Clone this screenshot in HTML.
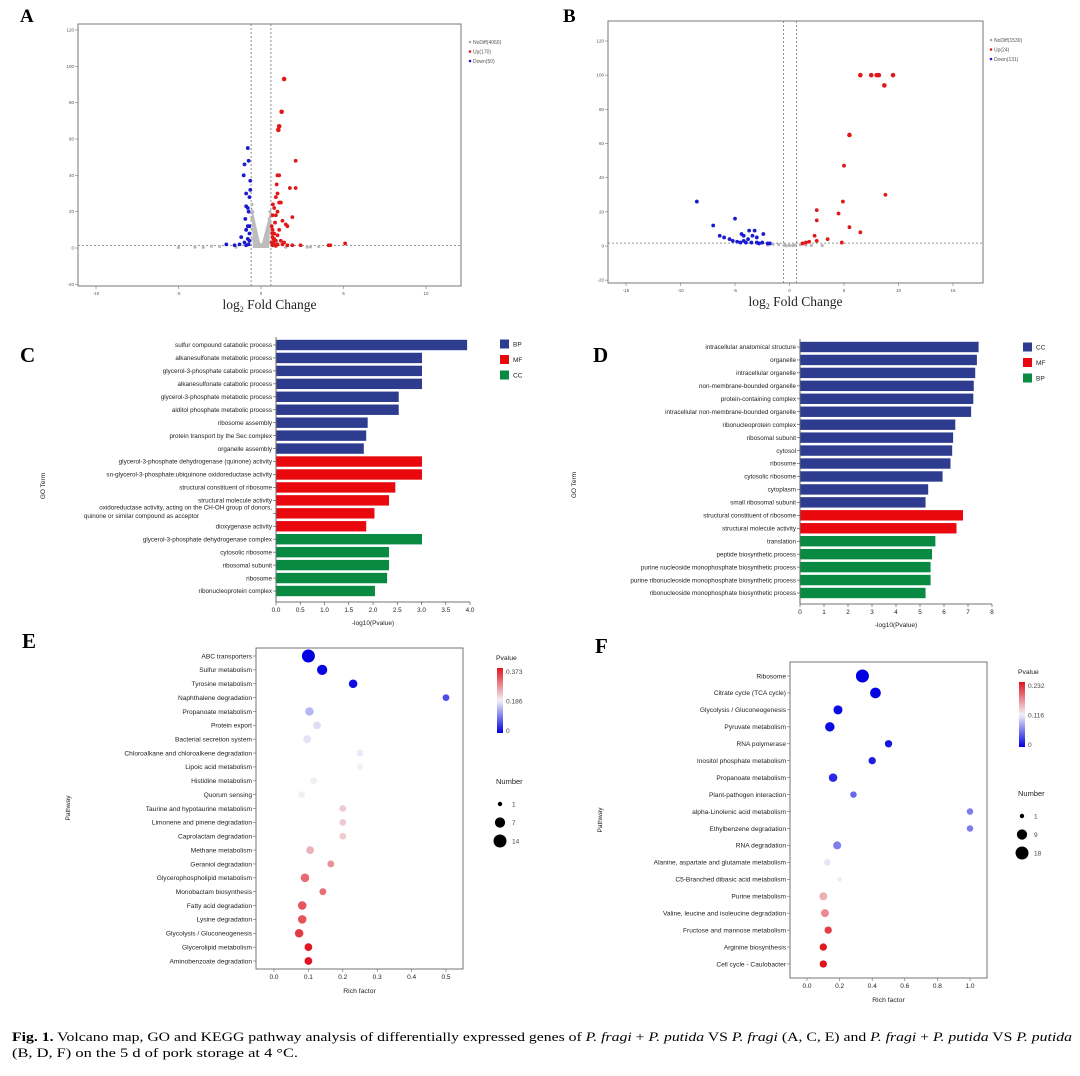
<!DOCTYPE html>
<html><head><meta charset="utf-8">
<style>
html,body{margin:0;padding:0;background:#fff;}
svg{display:block;font-family:"Liberation Sans",Arial,sans-serif;}
.serif{font-family:"Liberation Serif",serif;}
</style></head>
<body>
<svg id="fig" width="1080" height="1076" viewBox="0 0 1080 1076" xmlns="http://www.w3.org/2000/svg">
<defs>
<linearGradient id="cbar" x1="0" y1="1" x2="0" y2="0">
<stop offset="0" stop-color="#0000e0"/><stop offset="0.5" stop-color="#f2f2f8"/><stop offset="1" stop-color="#e0141e"/>
</linearGradient>
</defs>
<text x="20" y="22" font-size="19" font-weight="bold" class="serif">A</text>
<text x="563" y="22" font-size="19" font-weight="bold" class="serif">B</text>
<text x="20" y="362" font-size="21" font-weight="bold" class="serif">C</text>
<text x="593" y="362" font-size="21" font-weight="bold" class="serif">D</text>
<text x="22" y="648" font-size="21" font-weight="bold" class="serif">E</text>
<text x="595" y="653" font-size="21" font-weight="bold" class="serif">F</text>
<text x="12" y="1041" font-size="13" class="serif" textLength="1060" lengthAdjust="spacingAndGlyphs"><tspan font-weight="bold">Fig. 1.</tspan> Volcano map, GO and KEGG pathway analysis of differentially expressed genes of <tspan font-style="italic">P. fragi</tspan> + <tspan font-style="italic">P. putida</tspan> VS <tspan font-style="italic">P. fragi</tspan> (A, C, E) and <tspan font-style="italic">P. fragi</tspan> + <tspan font-style="italic">P. putida</tspan> VS <tspan font-style="italic">P. putida</tspan></text>
<text x="12" y="1057" font-size="13" class="serif" textLength="286" lengthAdjust="spacingAndGlyphs">(B, D, F) on the 5 d of pork storage at 4 °C.</text>
</svg>
<script>
// ---------- Panel A volcano data ----------
var aUpX=[1.4,1.25,1.1,1.05,2.1,1.0,1.1,2.1,1.75,0.95,1.0,0.9,1.1,1.2,0.8,1.0,1.9,0.9,1.3,1.5,1.6,0.85,1.1,0.7,0.8,1.0,0.7,0.75,0.9,1.2,1.4,0.65,0.8,1.0,1.3,1.6,1.9,2.4,4.1,4.2,5.1,0.7,0.9,0.65,0.7,0.72,0.75,0.8,0.68];
var aUpY=[93,75,67,65,48,40,40,33,33,35,30,28,25,25,22,20,17,18,15,13,12,14,10,10,8,7,6,5,4,4,3,3,2,2,2,1.5,1.5,1.5,1.5,1.5,2.5,1.5,1.2,12,18,24,3,5,8];
var aDownX=[-0.8,-0.75,-1.0,-1.05,-0.65,-0.65,-0.9,-0.7,-0.9,-0.8,-0.75,-0.95,-0.8,-0.7,-0.9,-0.7,-1.2,-0.8,-0.7,-1.0,-1.3,-1.6,-2.1,-0.9,-0.75];
var aDownY=[55,48,46,40,37,32,30,28,23,22,20,16,12,12,10,8,6,5,4,3,2,1.5,2,1.5,2];
var aNoX=[-0.55,-0.5,-0.45,-0.4,-0.35,-0.3,-0.2,-0.1,0,0.1,0.2,0.3,0.4,0.45,0.5,0.55,-0.5,-0.4,0.4,0.5,-0.55,-0.5,0.5,0.55,-3,-2.5,-4,-5,3,3.5,2.8,-3.5,-1.5,1.5,-0.3,0.3];
var aNoY=[24,20,15,12,9,6,4,2,1,2,3,5,8,12,16,20,10,6,4,9,16,5,3,14,1,0.8,0.5,0.3,0.6,0.8,0.5,0.4,0.5,0.5,2,2];
var aLegend=["NoDiff(4060)","Up(170)","Down(50)"];
// ---------- Panel B volcano data ----------
var bUpX=[6.5,7.5,8.0,8.2,9.5,8.7,5.5,5.0,8.8,4.9,2.5,4.5,2.5,5.5,6.5,2.3,2.5,3.5,4.8,1.5,1.8,1.2];
var bUpY=[100,100,100,100,100,94,65,47,30,26,21,19,15,11,8,6,3,4,2,2,2.5,1.5];
var bDownX=[-8.5,-7,-5,-6.4,-6,-4.4,-4.2,-3.7,-3.2,-3.4,-2.4,-3,-5.5,-5.2,-4.8,-4.5,-4,-3.5,-3,-2.8,-2.5,-2,-1.8,-4.2,-3.8];
var bDownY=[26,12,16,6,5,7,6,9,9,6,7,5,4,3,2.5,2,2,2,2,1.5,2,1.5,1.5,3,4];
var bNoX=[-1.5,-1,-0.5,0,0.5,1,1.5,2,-2,3,-0.3,0.3];
var bNoY=[1,0.8,0.5,0.3,0.5,0.8,0.5,0.3,0.5,0.3,0.2,0.2];
var bLegend=["NoDiff(1530)","Up(24)","Down(131)"];
var volcXTicks=[-10,-5,0,5,10];
var volcBXTicks=[-15,-10,-5,0,5,10,15];
var volcYTicks=[-20,0,20,40,60,80,100,120];
// ---------- Panel C GO data ----------
var cTerms=["sulfur compound catabolic process","alkanesulfonate metabolic process","glycerol-3-phosphate catabolic process","alkanesulfonate catabolic process","glycerol-3-phosphate metabolic process","alditol phosphate metabolic process","ribosome assembly","protein transport by the Sec complex","organelle assembly","glycerol-3-phosphate dehydrogenase (quinone) activity","sn-glycerol-3-phosphate:ubiquinone oxidoreductase activity","structural constituent of ribosome","structural molecule activity","oxidoreductase activity, acting on the CH-OH group of donors,|quinone or similar compound as acceptor","dioxygenase activity","glycerol-3-phosphate dehydrogenase complex","cytosolic ribosome","ribosomal subunit","ribosome","ribonucleoprotein complex"];
var cValues=[3.93,3.0,3.0,3.0,2.52,2.52,1.88,1.85,1.8,3.0,3.0,2.45,2.32,2.02,1.85,3.0,2.32,2.32,2.28,2.03];
var cGroups=["BP","BP","BP","BP","BP","BP","BP","BP","BP","MF","MF","MF","MF","MF","MF","CC","CC","CC","CC","CC"];
var cLegend=["BP","MF","CC"];
var cTicks=[0,0.5,1,1.5,2,2.5,3,3.5,4];
// ---------- Panel D GO data ----------
var dTerms=["intracellular anatomical structure","organelle","intracellular organelle","non-membrane-bounded organelle","protein-containing complex","intracellular non-membrane-bounded organelle","ribonucleoprotein complex","ribosomal subunit","cytosol","ribosome","cytosolic ribosome","cytoplasm","small ribosomal subunit","structural constituent of ribosome","structural molecule activity","translation","peptide biosynthetic process","purine nucleoside monophosphate biosynthetic process","purine ribonucleoside monophosphate biosynthetic process","ribonucleoside monophosphate biosynthetic process"];
var dValues=[7.42,7.35,7.28,7.22,7.2,7.11,6.45,6.36,6.32,6.25,5.92,5.32,5.21,6.77,6.5,5.62,5.48,5.42,5.42,5.21];
var dGroups=["CC","CC","CC","CC","CC","CC","CC","CC","CC","CC","CC","CC","CC","MF","MF","BP","BP","BP","BP","BP"];
var dLegend=["CC","MF","BP"];
var dTicks=[0,1,2,3,4,5,6,7,8];
// ---------- Panel E KEGG data ----------
var ePaths=["ABC transporters","Sulfur metabolism","Tyrosine metabolism","Naphthalene degradation","Propanoate metabolism","Protein export","Bacterial secretion system","Chloroalkane and chloroalkene degradation","Lipoic acid metabolism","Histidine metabolism","Quorum sensing","Taurine and hypotaurine metabolism","Limonene and pinene degradation","Caprolactam degradation","Methane metabolism","Geraniol degradation","Glycerophospholipid metabolism","Monobactam biosynthesis","Fatty acid degradation","Lysine degradation","Glycolysis / Gluconeogenesis","Glycerolipid metabolism","Aminobenzoate degradation"];
var eRich=[0.1,0.14,0.23,0.5,0.103,0.125,0.096,0.25,0.25,0.115,0.08,0.2,0.2,0.2,0.105,0.165,0.09,0.142,0.082,0.082,0.073,0.1,0.1];
var ePval=[0,0.005,0.01,0.06,0.14,0.17,0.175,0.18,0.185,0.19,0.19,0.22,0.22,0.22,0.24,0.27,0.3,0.3,0.32,0.32,0.34,0.37,0.373];
var eCount=[14,7,4,2,4,3,3,2,2,2,2,2,2,2,3,2,4,2,4,4,4,3,3];
var eTicks=[0,0.1,0.2,0.3,0.4,0.5];
var eColorTicks=["0.373","0.186","0"];
var eSizeKeys=[1,7,14];
// ---------- Panel F KEGG data ----------
var fPaths=["Ribosome","Citrate cycle (TCA cycle)","Glycolysis / Gluconeogenesis","Pyruvate metabolism","RNA polymerase","Inositol phosphate metabolism","Propanoate metabolism","Plant-pathogen interaction","alpha-Linolenic acid metabolism","Ethylbenzene degradation","RNA degradation","Alanine, aspartate and glutamate metabolism","C5-Branched dibasic acid metabolism","Purine metabolism","Valine, leucine and isoleucine degradation","Fructose and mannose metabolism","Arginine biosynthesis","Cell cycle - Caulobacter"];
var fRich=[0.34,0.42,0.19,0.14,0.5,0.4,0.16,0.285,1.0,1.0,0.185,0.125,0.2,0.1,0.11,0.13,0.1,0.1];
var fPval=[0,0.002,0.005,0.005,0.01,0.015,0.02,0.05,0.06,0.06,0.06,0.11,0.12,0.15,0.17,0.21,0.23,0.232];
var fCount=[18,10,6,7,3,3,5,2,2,2,4,2,1,4,4,3,3,3];
var fTicks=[0,0.2,0.4,0.6,0.8,1.0];
var fColorTicks=["0.232","0.116","0"];
var fSizeKeys=[1,9,18];

var svg=document.getElementById('fig');
var NS='http://www.w3.org/2000/svg';
function mk(tag,attrs,parent){var e=document.createElementNS(NS,tag);for(var k in attrs)e.setAttribute(k,attrs[k]);(parent||svg).appendChild(e);return e;}
function txt(x,y,s,size,anchor,parent){var t=mk('text',{x:x,y:y,'font-size':size,'text-anchor':anchor||'start',fill:'#222'},parent);t.textContent=s;return t;}

// ---------- Volcano ----------
function volcano(o){
  var g=mk('g',{});
  
  
  var sx=function(v){return o.x0+(v-o.xa)/(o.xb-o.xa)*(o.x1-o.x0);};
  var sy=function(v){return o.y0+(v-o.ya)/(o.yb-o.ya)*(o.y1-o.y0);};
  var box=mk('rect',{x:o.L,y:o.T,width:o.R-o.L,height:o.B-o.T,fill:'#fff',stroke:'#777','stroke-width':1},g);
  
  
  o.yt.forEach(function(v){var y=sy(v);mk('line',{x1:o.L-3,x2:o.L,y1:y,y2:y,stroke:'#777','stroke-width':0.6},g);
    var t=txt(o.L-4,y+1.5,String(v),4.5,'end',g);t.setAttribute('fill','#555');
    
    });
  o.xt.forEach(function(v){var x=sx(v);mk('line',{x1:x,x2:x,y1:o.B,y2:o.B+3,stroke:'#777','stroke-width':0.6},g);
    var t=txt(x,o.B+9,String(v),4.5,'middle',g);t.setAttribute('fill','#555');
    
    });
  [o.vl,o.vr].forEach(function(v){var l=mk('line',{x1:sx(v),x2:sx(v),y1:o.T,y2:o.B,stroke:'#777','stroke-width':0.8,'stroke-dasharray':'2,2'},g);
    
    });
  var hl=mk('line',{x1:o.L,x2:o.R,y1:sy(o.hy),y2:sy(o.hy),stroke:'#777','stroke-width':0.8,'stroke-dasharray':'2,2'},g);
  
  
  o.noX.forEach(function(v,i){var c=mk('circle',{cx:sx(v),cy:sy(o.noY[i]),r:1.6,fill:'#b8b8b8'},g);
    
    });
  if(o.cone){var p=mk('polygon',{points:sx(-0.58)+','+sy(24)+' '+sx(0)+','+sy(0.5)+' '+sx(0.58)+','+sy(21)+' '+sx(0.5)+','+sy(0)+' '+sx(-0.5)+','+sy(0),fill:'#bdbdbd'},g);
    
    }
  o.upX.forEach(function(v,i){var c=mk('circle',{cx:sx(v),cy:sy(o.upY[i]),r:o.upY[i]>60?2.3:1.9,fill:'#e01818'},g);
    
    });
  o.dnX.forEach(function(v,i){var c=mk('circle',{cx:sx(v),cy:sy(o.dnY[i]),r:1.9,fill:'#1a1ad0'},g);
    
    });
  var cols=['#aaa','#e01818','#1a1ad0'];
  o.leg.forEach(function(s,i){var y=o.legY+i*9.5;
    var d=mk('circle',{cx:o.legX,cy:y,r:1.3,fill:cols[i]},g);
    
    
    var t=txt(o.legX+3,y+1.8,s,5,'start',g);t.setAttribute('fill','#555');
    
    });
  var xt=mk('text',{x:(o.L+o.R)/2,y:o.B+23,'font-size':13.5,'text-anchor':'middle',fill:'#222','class':'serif'},g);
  xt.innerHTML='log<tspan font-size="8" dy="3">2</tspan><tspan dy="-3"> Fold Change</tspan>';
  
  
}
volcano({name:'volcano-a',L:78,R:461,T:24,B:286,xa:-10,xb:10,x0:96,x1:426,ya:0,yb:120,y0:248,y1:30,
  xt:volcXTicks,yt:volcYTicks,vl:-0.6,vr:0.6,hy:1.3,noX:aNoX,noY:aNoY,upX:aUpX,upY:aUpY,dnX:aDownX,dnY:aDownY,leg:aLegend,legX:470,legY:42,cone:true});
volcano({name:'volcano-b',L:608,R:983,T:21,B:283,xa:-15,xb:15,x0:626,x1:953,ya:0,yb:120,y0:246,y1:41,
  xt:volcBXTicks,yt:volcYTicks,vl:-0.55,vr:0.65,hy:1.7,noX:bNoX,noY:bNoY,upX:bUpX,upY:bUpY,dnX:bDownX,dnY:bDownY,leg:bLegend,legX:991,legY:40,cone:false});

// ---------- GO bars ----------
var palette=['#2e3c8f','#e8080e','#088a43'];
function gobar(o){
  var g=mk('g',{});
  
  
  var col=function(grp){return palette[o.leg.indexOf(grp)];};
  var sx=function(v){return o.x0+v/o.max*(o.x1-o.x0);};
  var step=(o.yLast-o.yFirst)/(o.terms.length-1);
  var ax=mk('line',{x1:o.x0,x2:o.x0,y1:o.yFirst-8,y2:o.axisY,stroke:'#444','stroke-width':0.8},g);
  
  
  var bx=mk('line',{x1:o.x0,x2:o.x1,y1:o.axisY,y2:o.axisY,stroke:'#444','stroke-width':0.8},g);
  
  
  o.terms.forEach(function(s,i){var y=o.yFirst+i*step;
    var r=mk('rect',{x:o.x0+0.5,y:y-5.2,width:sx(o.values[i])-o.x0,height:10.4,fill:col(o.groups[i])},g);
    
    
    mk('line',{x1:o.x0-3,x2:o.x0,y1:y,y2:y,stroke:'#444','stroke-width':0.6},g);
    var parts=s.split('|');
    if(parts.length>1){var t1=txt(o.x0-4,y-4,parts[0],6.3,'end',g);
      
      
      var t2=txt(o.x0-77,y+4.5,parts[1],6.3,'end',g);
      
      }
    else{var t=txt(o.x0-4,y+2.2,s,6.3,'end',g);
      
      }
  });
  o.ticks.forEach(function(v){var x=sx(v);mk('line',{x1:x,x2:x,y1:o.axisY,y2:o.axisY+3,stroke:'#444','stroke-width':0.6},g);
    var t=txt(x,o.axisY+10,o.fmt(v),6.3,'middle',g);
    
    });
  var xt=txt((o.x0+o.x1)/2,o.axisY+23,'-log10(Pvalue)',6.5,'middle',g);
  
  
  var yt=txt(0,0,'GO Term',6.5,'middle',g);
  yt.setAttribute('transform','translate('+o.ytX+','+o.ytY+') rotate(-90)');
  
  
  o.leg.forEach(function(s,i){var y=o.legY+i*15.5;
    var r=mk('rect',{x:o.legX,y:y-4.5,width:9,height:9,fill:palette[i]},g);
    
    
    var t=txt(o.legX+13,y+2.5,s,6.5,'start',g);
    
    });
}
gobar({name:'go-chart-c',terms:cTerms,values:cValues,groups:cGroups,leg:cLegend,ticks:cTicks,max:4,x0:276,x1:470,yFirst:345,yLast:591,axisY:602,
  ytX:45,ytY:486,legX:500,legY:344,fmt:function(v){return v.toFixed(1);}});
gobar({name:'go-chart-d',terms:dTerms,values:dValues,groups:dGroups,leg:dLegend,ticks:dTicks,max:8,x0:800,x1:992,yFirst:347,yLast:593,axisY:604,
  ytX:576,ytY:485,legX:1023,legY:347,fmt:function(v){return String(v);}});

// ---------- KEGG bubbles ----------
function pcol(p,pmax){var t=Math.max(0,Math.min(1,p/pmax));var a,b,u;
  if(t<0.5){a=[0,0,224];b=[242,242,248];u=t/0.5;}else{a=[242,242,248];b=[224,20,30];u=(t-0.5)/0.5;}
  return 'rgb('+Math.round(a[0]+(b[0]-a[0])*u)+','+Math.round(a[1]+(b[1]-a[1])*u)+','+Math.round(a[2]+(b[2]-a[2])*u)+')';}
function kegg(o){
  var g=mk('g',{});
  
  
  var sx=function(v){return o.x0+v/o.xmax*(o.x1-o.x0);};
  var rs=function(n){return 2.2+4.3*Math.sqrt((n-1)/(o.nmax-1));};
  var box=mk('rect',{x:o.L,y:o.T,width:o.R-o.L,height:o.B-o.T,fill:'#fff',stroke:'#666','stroke-width':0.9},g);
  
  
  var step=(o.yLast-o.yFirst)/(o.paths.length-1);
  o.paths.forEach(function(s,i){var y=o.yFirst+i*step;
    mk('line',{x1:o.L-3,x2:o.L,y1:y,y2:y,stroke:'#666','stroke-width':0.6},g);
    var t=txt(o.L-4,y+2.3,s,6.6,'end',g);
    
    
    var c=mk('circle',{cx:sx(o.rich[i]),cy:y,r:rs(o.count[i]),fill:pcol(o.pval[i],o.pmax)},g);
    
    });
  o.ticks.forEach(function(v){var x=sx(v);mk('line',{x1:x,x2:x,y1:o.B,y2:o.B+3,stroke:'#666','stroke-width':0.6},g);
    var t=txt(x,o.B+10,v.toFixed(1),6.5,'middle',g);
    
    });
  var xt=txt((o.L+o.R)/2,o.B+24,'Rich factor',6.8,'middle',g);
  
  
  var yt=txt(0,0,'Pathway',6.5,'middle',g);
  yt.setAttribute('transform','translate('+o.ytX+','+o.ytY+') rotate(-90)');
  
  
  var ct=txt(o.cbX-1,o.cbT-8,'Pvalue',6.8,'start',g);
  
  
  var cb=mk('rect',{x:o.cbX,y:o.cbT,width:6,height:o.cbB-o.cbT,fill:'url(#cbar)'},g);
  
  
  o.cticks.forEach(function(s,i){var y=o.cbT+4+i*(o.cbB-o.cbT-6)/2;
    var t=txt(o.cbX+9,y+2,s,6.6,'start',g);t.setAttribute('fill','#444');
    
    });
  var nt=txt(o.cbX-1,o.nY,'Number',7.5,'start',g);
  
  
  o.sizes.forEach(function(n,i){var y=o.nY+20+i*18.5;
    var c=mk('circle',{cx:o.cbX+3,cy:y,r:rs(n),fill:'#000'},g);
    
    
    var t=txt(o.cbX+15,y+2.3,String(n),6.5,'start',g);t.setAttribute('fill','#444');
    
    });
}
kegg({name:'kegg-bubble-e',paths:ePaths,rich:eRich,pval:ePval,count:eCount,ticks:eTicks,cticks:eColorTicks,sizes:eSizeKeys,pmax:0.373,nmax:14,xmax:0.5,
  L:256,R:463,T:648,B:969,x0:274,x1:446,yFirst:656,yLast:961,ytX:70,ytY:808,cbX:497,cbT:668,cbB:733,nY:784});
kegg({name:'kegg-bubble-f',paths:fPaths,rich:fRich,pval:fPval,count:fCount,ticks:fTicks,cticks:fColorTicks,sizes:fSizeKeys,pmax:0.232,nmax:18,xmax:1.0,
  L:790,R:987,T:662,B:978,x0:807,x1:970,yFirst:676,yLast:964,ytX:602,ytY:820,cbX:1019,cbT:682,cbB:747,nY:796});
</script>
</body></html>
